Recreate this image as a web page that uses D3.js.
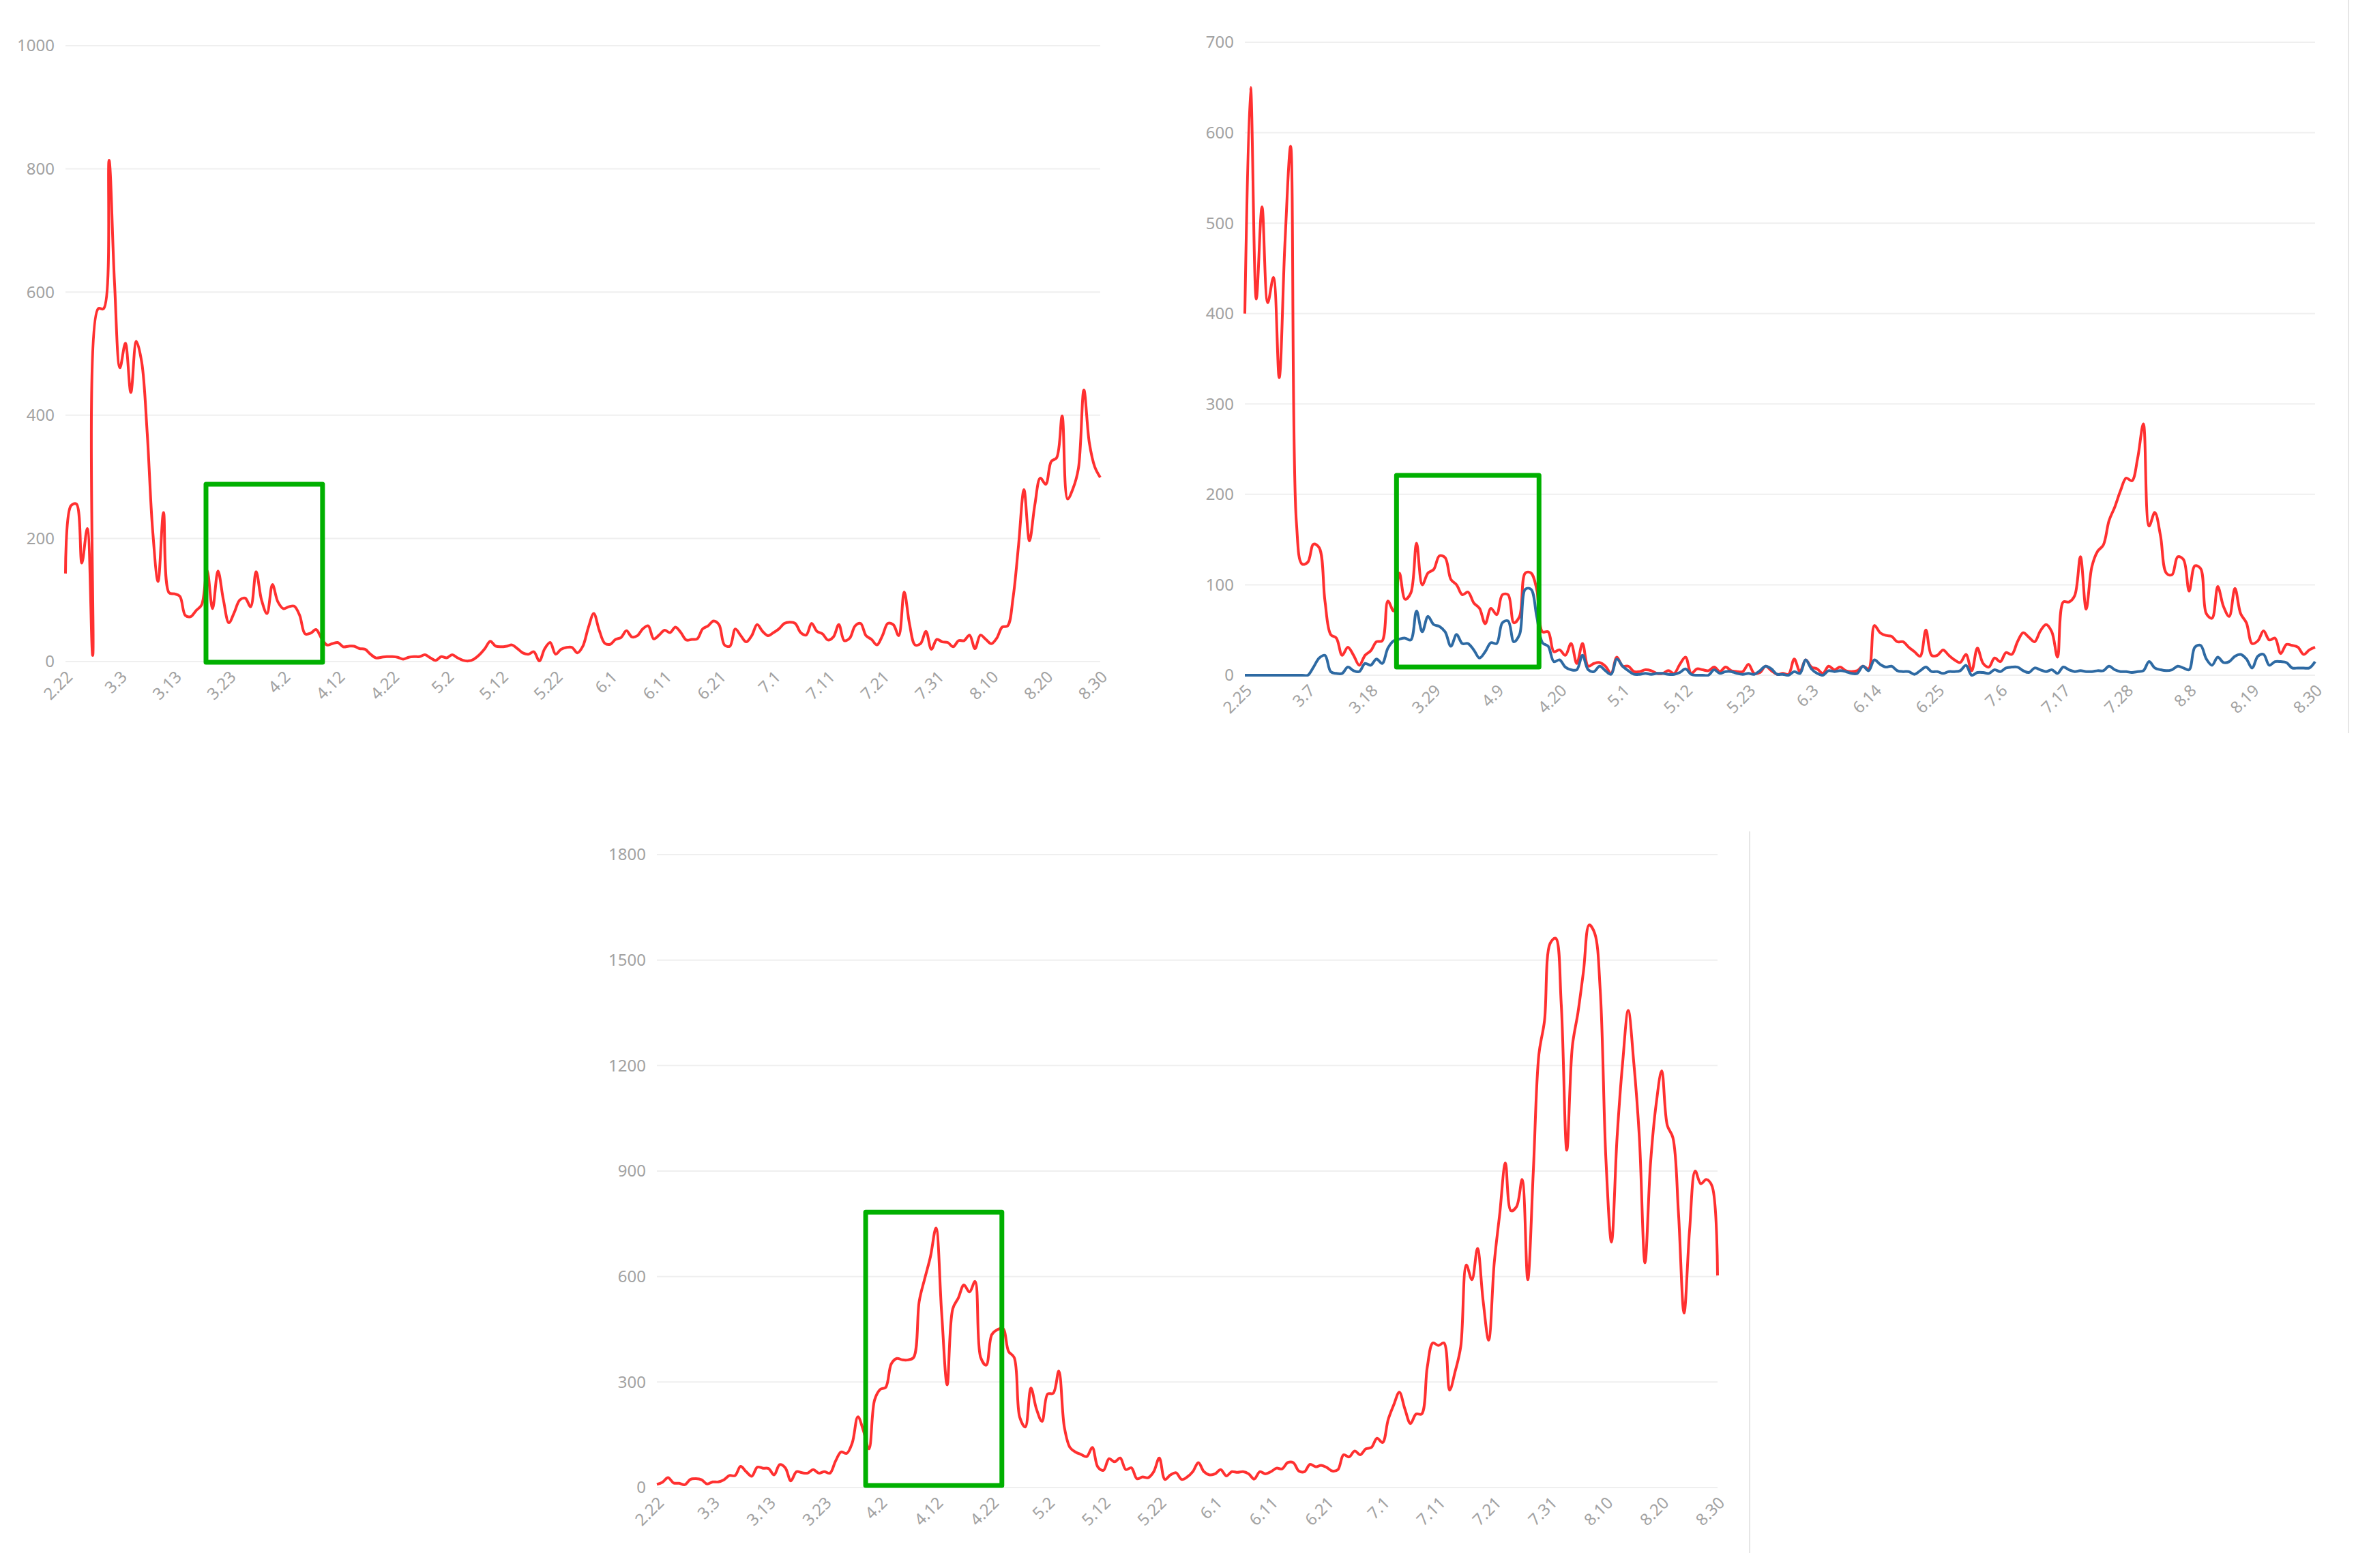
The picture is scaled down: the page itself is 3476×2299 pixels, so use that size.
<!DOCTYPE html>
<html lang="en">

<head>
  <meta charset="UTF-8">
  <title>Daily new cases</title>
  <script src="https://d3js.org/d3.v7.min.js"></script>
  <style>
    body {
      margin: 0;
      background: #fff;
    }

    text {
      font-family: 'Noto Sans', 'Open Sans', sans-serif;
      font-size: 24px;
      fill: #a2a2a2;
    }

    .grid line {
      stroke: #efefef;
      stroke-width: 2;
    }

    .divider {
      stroke: #e6e6e6;
      stroke-width: 2;
    }

    .box {
      fill: none;
      stroke: #00b000;
      stroke-width: 7;
      stroke-linejoin: round;
    }
  </style>
</head>

<body>
  <script>
    var width = 3476,
      height = 2299;

    // categories: one entry per day
    var fmt = d3.timeFormat("%-m.%-d");
    var daysA = d3.timeDay.range(new Date(2020, 1, 22), new Date(2020, 7, 31)).map(fmt); // 2.22 - 8.30
    var daysB = d3.timeDay.range(new Date(2020, 1, 25), new Date(2020, 7, 31)).map(fmt); // 2.25 - 8.30

    // tick labels
    var ticks1 = [0, 200, 400, 600, 800, 1000];
    var ticks2 = [0, 100, 200, 300, 400, 500, 600, 700];
    var ticks3 = [0, 300, 600, 900, 1200, 1500, 1800];

    // top left chart
    var series1 = [143, 253, 256, 160, 216, 10, 573, 573, 814, 616,
      477, 517, 437, 520, 486, 372, 214, 130, 242, 112,
      110, 106, 75, 73, 83, 92, 148, 86, 147, 100,
      63, 80, 100, 103, 89, 146, 100, 78, 125, 97,
      86, 89, 90, 75, 45, 46, 52, 38, 27, 29,
      31, 24, 25, 25, 21, 20, 12, 6, 7, 8,
      8, 7, 4, 7, 8, 8, 11, 6, 2, 8,
      6, 11, 6, 2, 1, 4, 11, 21, 33, 25,
      24, 25, 27, 21, 14, 12, 16, 1, 21, 31,
      12, 20, 23, 23, 14, 25, 55, 78, 51, 30,
      28, 36, 39, 50, 40, 42, 53, 58, 37, 43,
      51, 47, 56, 47, 35, 36, 37, 53, 58, 66,
      60, 27, 25, 53, 42, 32, 42, 60, 49, 42,
      47, 53, 62, 64, 62, 47, 43, 62, 49, 45,
      35, 40, 60, 34, 38, 58, 62, 42, 36, 27,
      42, 62, 60, 42, 113, 60, 27, 29, 49, 20,
      36, 32, 31, 24, 34, 34, 43, 21, 43, 36,
      29, 38, 56, 58, 104, 189, 279, 196, 255, 298,
      288, 325, 331, 399, 264, 281, 314, 441, 355, 316,
      299];

    // top right chart, two series
    var series2red = [400, 650, 416, 518, 412, 440, 329, 477, 585, 170,
      123, 125, 145, 141, 82, 45, 41, 22, 31, 22,
      11, 22, 27, 37, 38, 82, 71, 113, 84, 91,
      146, 100, 113, 117, 132, 130, 106, 100, 89, 92,
      80, 74, 57, 74, 67, 89, 89, 58, 65, 113,
      113, 95, 48, 48, 26, 28, 22, 35, 13, 35,
      10, 13, 14, 10, 2, 20, 10, 10, 4, 4,
      6, 5, 2, 2, 5, 2, 12, 20, 2, 7,
      6, 5, 9, 4, 9, 5, 4, 4, 12, 2,
      3, 10, 5, 1, 2, 1, 18, 4, 17, 9,
      7, 2, 10, 6, 9, 5, 4, 5, 10, 7,
      55, 47, 44, 43, 37, 37, 31, 26, 21, 50,
      22, 22, 28, 22, 17, 14, 23, 5, 30, 13,
      9, 19, 15, 25, 23, 37, 47, 42, 37, 49,
      56, 48, 20, 81, 81, 88, 131, 73, 120, 137,
      144, 171, 186, 204, 218, 215, 240, 278, 165, 180,
      154, 113, 111, 131, 128, 93, 121, 118, 68, 63,
      98, 76, 65, 96, 68, 58, 35, 38, 49, 39,
      41, 24, 34, 33, 31, 23, 28, 31];

    var series2blue = [0, 0, 0, 0, 0, 0, 0, 0, 0, 0,
      0, 0, 9, 19, 22, 4, 2, 2, 9, 5,
      4, 13, 11, 18, 13, 30, 38, 40, 41, 39,
      71, 48, 65, 56, 54, 48, 32, 45, 35, 35,
      28, 19, 26, 36, 35, 58, 60, 37, 45, 95,
      95, 65, 36, 32, 15, 17, 9, 6, 6, 22,
      6, 4, 10, 5, 1, 18, 10, 5, 1, 1,
      2, 1, 2, 2, 1, 1, 3, 7, 1, 0,
      0, 0, 6, 2, 4, 4, 2, 1, 2, 1,
      5, 10, 7, 1, 1, 0, 4, 2, 17, 7,
      2, 0, 5, 4, 5, 4, 2, 2, 10, 5,
      17, 12, 9, 10, 5, 4, 4, 1, 5, 9,
      4, 4, 2, 4, 4, 5, 11, 0, 3, 3,
      2, 6, 4, 8, 9, 9, 5, 3, 8, 6,
      4, 6, 2, 9, 6, 4, 5, 4, 4, 5,
      5, 10, 6, 4, 4, 3, 4, 5, 15, 8,
      6, 5, 6, 10, 8, 6, 31, 33, 18, 11,
      20, 14, 15, 21, 23, 18, 8, 21, 23, 11,
      15, 15, 14, 8, 8, 8, 8, 15];

    // bottom chart
    var series3 = [9, 15, 28, 13, 12, 8, 23, 25, 22, 10,
      16, 16, 22, 34, 34, 60, 45, 32, 58, 55,
      54, 36, 65, 56, 19, 45, 42, 41, 51, 41,
      45, 41, 75, 101, 97, 127, 201, 162, 110, 249,
      279, 285, 352, 367, 363, 363, 370, 530, 595, 656,
      738, 500, 292, 508, 539, 576, 556, 586, 370, 348,
      435, 449, 452, 387, 370, 200, 172, 283, 223, 188,
      266, 268, 331, 171, 114, 101, 94, 88, 114, 58,
      49, 82, 73, 84, 51, 56, 25, 30, 28, 45,
      84, 23, 36, 42, 23, 30, 45, 71, 45, 36,
      39, 51, 33, 45, 43, 45, 39, 24, 45, 39,
      45, 55, 53, 71, 71, 47, 45, 66, 59, 63,
      57, 47, 51, 93, 87, 104, 93, 110, 114, 140,
      128, 193, 235, 271, 223, 182, 209, 209, 342, 411,
      404, 411, 277, 330, 401, 633, 591, 680, 532, 419,
      639, 781, 923, 787, 799, 876, 591, 900, 1232, 1327,
      1547, 1562, 1375, 959, 1256, 1351, 1470, 1600, 1576, 1410,
      935, 698, 995, 1208, 1357, 1208, 995, 639, 923, 1090,
      1185, 1030, 995, 781, 496, 734, 900, 864, 876, 858,
      603];

    // highlighted ranges: [first day, last day, low, high]
    var box1 = [25.8, 47.2, -1, 288];
    var box2 = [26.5, 51.4, 9, 221];
    var box3 = [37.4, 61.8, 6, 783];

    var svg = d3.select("body").append("svg")
      .attr("width", width)
      .attr("height", height);

    svg.append("rect")
      .attr("width", width)
      .attr("height", height)
      .attr("fill", "#fff");

    // faint panel edges from the screenshot
    svg.append("line").attr("class", "divider")
      .attr("x1", 3443).attr("x2", 3443).attr("y1", 0).attr("y2", 1075);
    svg.append("line").attr("class", "divider")
      .attr("x1", 2565).attr("x2", 2565).attr("y1", 1219).attr("y2", 2277);

    var charts = [
      { id: "c1", days: daysA, series: [[series1, "#ff3030"]], ticks: ticks1, every: 10, box: box1,
        left: 96, right: 1613, top: 67, bottom: 970 },
      { id: "c2", days: daysB, series: [[series2red, "#ff3030"], [series2blue, "#2e6aa3"]], ticks: ticks2, every: 11, box: box2,
        left: 1825, right: 3394, top: 62, bottom: 990 },
      { id: "c3", days: daysA, series: [[series3, "#ff3030"]], ticks: ticks3, every: 10, box: box3,
        left: 963, right: 2518, top: 1253, bottom: 2181 }
    ];

    charts.forEach(drawChart);

    function drawChart(c) {
      var x = d3.scaleLinear()
        .domain([0, c.days.length - 1])
        .range([c.left, c.right]);

      var y = d3.scaleLinear()
        .domain([0, d3.max(c.ticks)])
        .range([c.bottom, c.top]);

      var g = svg.append("g");

      var grid = g.append("g").attr("class", "grid");

      grid.selectAll("line")
        .data(c.ticks)
        .enter().append("line")
        .attr("x1", c.left)
        .attr("x2", c.right)
        .attr("y1", function (d) { return y(d); })
        .attr("y2", function (d) { return y(d); });

      g.append("g")
        .selectAll("text")
        .data(c.ticks)
        .enter().append("text")
        .attr("x", c.left - 16)
        .attr("y", function (d) { return y(d); })
        .attr("dy", "0.35em")
        .attr("text-anchor", "end")
        .text(function (d) { return d; });

      var shown = c.days.filter(function (d, i) { return i % c.every === 0; });

      g.append("g")
        .selectAll("text")
        .data(shown)
        .enter().append("text")
        .attr("text-anchor", "end")
        .attr("dy", "0.35em")
        .attr("transform", function (d, i) {
          return "translate(" + (x(i * c.every) + 6) + "," + (c.bottom + 18) + ")rotate(-45)";
        })
        .text(function (d) { return d; });

      svg.append("clipPath")
        .attr("id", "clip-" + c.id)
        .append("rect")
        .attr("x", c.left - 10)
        .attr("y", c.top - 60)
        .attr("width", c.right - c.left + 20)
        .attr("height", c.bottom - c.top + 62);

      var line = d3.line()
        .x(function (d, i) { return x(i); })
        .y(function (d) { return y(d); })
        .curve(d3.curveCatmullRom.alpha(0.5));

      c.series.forEach(function (s) {
        g.append("path")
          .datum(s[0])
          .attr("clip-path", "url(#clip-" + c.id + ")")
          .attr("fill", "none")
          .attr("stroke", s[1])
          .attr("stroke-width", 4)
          .attr("stroke-linejoin", "round")
          .attr("d", line);
      });

      g.append("rect")
        .attr("class", "box")
        .attr("x", x(c.box[0]))
        .attr("y", y(c.box[3]))
        .attr("width", x(c.box[1]) - x(c.box[0]))
        .attr("height", y(c.box[2]) - y(c.box[3]));
    }
  </script>
</body>

</html>
